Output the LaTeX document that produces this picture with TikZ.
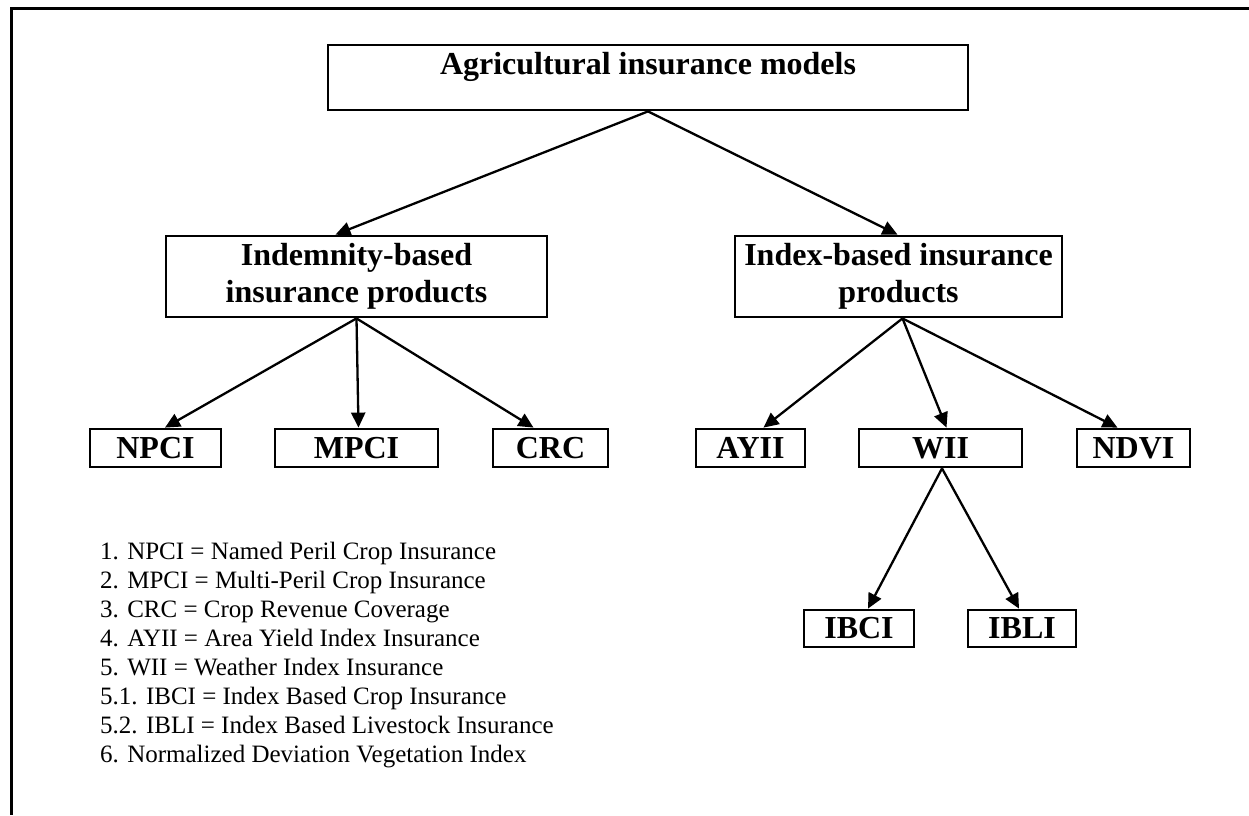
\documentclass[tikz,border=0pt]{standalone}
\usepackage{fontspec}
\setmainfont{Liberation Serif}
\usetikzlibrary{arrows.meta,calc}
\begin{document}
\begin{tikzpicture}[x=1pt,y=-1pt,
  box/.style={draw,line width=2.8pt,inner sep=0pt,align=center,
    font=\fontsize{32}{37}\selectfont\bfseries},
  arr/.style={line width=2.3pt,-{Triangle[length=15pt,width=14pt]}},
  legendtext/.style={inner sep=0pt,align=left,font=\fontsize{25}{29}\selectfont}]
\useasboundingbox (0,0) rectangle (1249,815);
\coordinate (fa) at (1249,8);
\coordinate (fb) at (11,8);
\coordinate (fc) at (11,815);
\draw[line width=3pt] (fa) -- (fb) -- (fc);

\node[box,minimum width=640,minimum height=65,text height=22pt,text depth=29pt] (top) at (648,77.5) {Agricultural insurance models};
\node[box,minimum width=381,minimum height=81] (ind) at (356.5,276.5) {Indemnity-based\\insurance products};
\node[box,minimum width=327,minimum height=81] (idx) at (898.5,276.5) {Index-based insurance\\products};

\node[box,minimum width=131,minimum height=38] (npci) at (155.5,448) {NPCI};
\node[box,minimum width=163,minimum height=38] (mpci) at (356.5,448) {MPCI};
\node[box,minimum width=115,minimum height=38] (crc) at (550.5,448) {CRC};
\node[box,minimum width=109,minimum height=38] (ayii) at (750.5,448) {AYII};
\node[box,minimum width=163,minimum height=38] (wii) at (940.5,448) {WII};
\node[box,minimum width=113,minimum height=38] (ndvi) at (1133.5,448) {NDVI};
\node[box,minimum width=110,minimum height=37] (ibci) at (859,628.5) {IBCI};
\node[box,minimum width=108,minimum height=37] (ibli) at (1022,628.5) {IBLI};

\draw[arr] (top.south) -- ([xshift=-21pt]ind.north);
\draw[arr] (top.south) -- ([xshift=-1pt]idx.north);
\draw[arr] (ind.south) -- ([xshift=9.5pt]npci.north);
\draw[arr] (ind.south) -- ([xshift=2pt]mpci.north);
\draw[arr] (ind.south) -- ([xshift=-17pt]crc.north);
\draw[arr] ([xshift=4pt]idx.south) -- ([xshift=13pt]ayii.north);
\draw[arr] ([xshift=4pt]idx.south) -- ([xshift=6pt]wii.north);
\draw[arr] ([xshift=4pt]idx.south) -- ([xshift=-16pt]ndvi.north);
\draw[arr] ([xshift=1.5pt]wii.south) -- ([xshift=9pt]ibci.north);
\draw[arr] ([xshift=1.5pt]wii.south) -- ([xshift=-3pt]ibli.north);

\node[legendtext,anchor=north west] (legend) at (100,542) {1. NPCI = Named Peril Crop Insurance\\
2. MPCI = Multi-Peril Crop Insurance\\
3. CRC = Crop Revenue Coverage\\
4. AYII = Area Yield Index Insurance\\
5. WII = Weather Index Insurance\\
5.1. IBCI = Index Based Crop Insurance\\
5.2. IBLI = Index Based Livestock Insurance\\
6. Normalized Deviation Vegetation Index};
\end{tikzpicture}
\end{document}
